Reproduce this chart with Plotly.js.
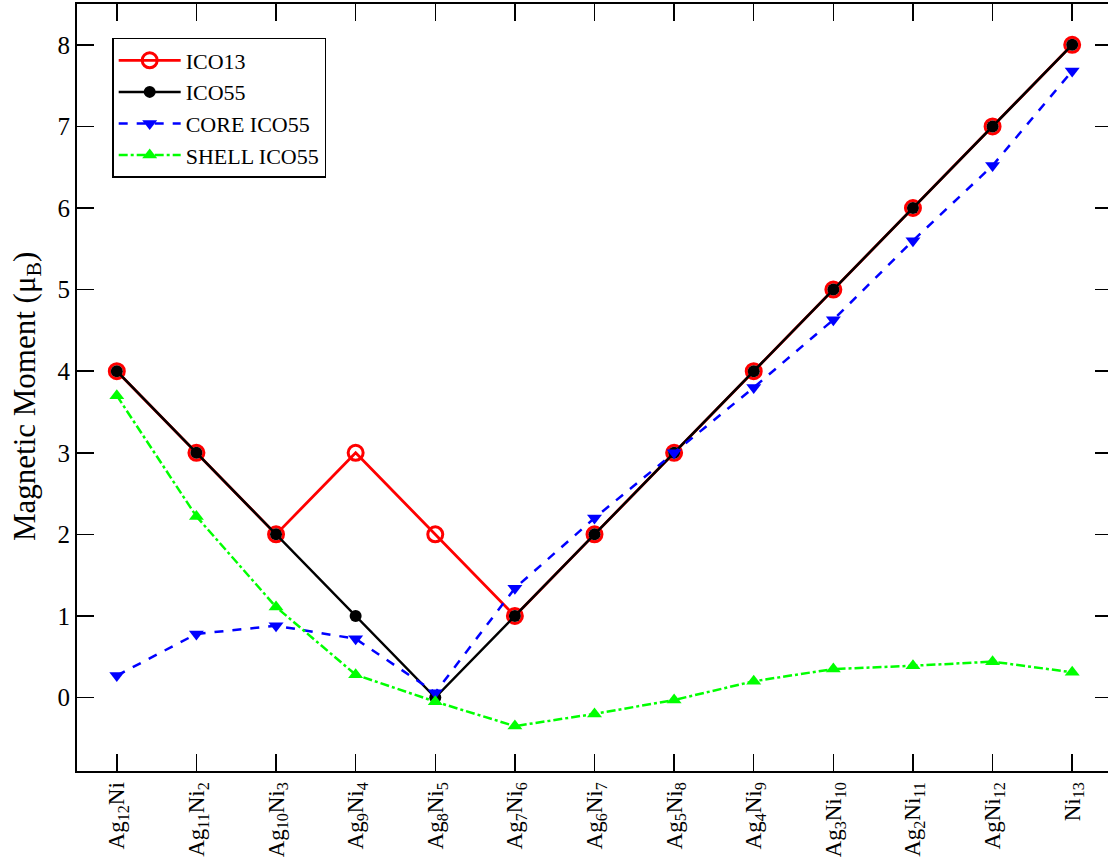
<!DOCTYPE html>
<html>
<head>
<meta charset="utf-8">
<script src="https://cdn.plot.ly/plotly-3.0.1.min.js"></script>
<style>html,body{margin:0;padding:0;overflow:hidden;background:#fff}</style>
</head>
<body>
<div id="chart"></div>
<script>
const categories = ["Ag<sub>12</sub>Ni","Ag<sub>11</sub>Ni<sub>2</sub>","Ag<sub>10</sub>Ni<sub>3</sub>","Ag<sub>9</sub>Ni<sub>4</sub>","Ag<sub>8</sub>Ni<sub>5</sub>","Ag<sub>7</sub>Ni<sub>6</sub>","Ag<sub>6</sub>Ni<sub>7</sub>","Ag<sub>5</sub>Ni<sub>8</sub>","Ag<sub>4</sub>Ni<sub>9</sub>","Ag<sub>3</sub>Ni<sub>10</sub>","Ag<sub>2</sub>Ni<sub>11</sub>","AgNi<sub>12</sub>","Ni<sub>13</sub>"];
const xIndex = [0,1,2,3,4,5,6,7,8,9,10,11,12];
const ico13 = [4,3,2,3,2,1,2,3,4,5,6,7,8];
const ico55 = [4,3,2,1,0,1,2,3,4,5,6,7,8];
const coreIco55 = [0.27,0.78,0.88,0.72,0.06,1.34,2.2,3.0,3.8,4.63,5.6,6.52,7.68];
const shellIco55 = [3.70,2.22,1.11,0.28,-0.05,-0.35,-0.2,-0.03,0.2,0.35,0.39,0.44,0.31];
const yTicks = [0,1,2,3,4,5,6,7,8];
const yTitle = "Magnetic Moment (μ<sub>B</sub>)";

const font = "Liberation Serif";
const traces = [
  {x:xIndex, y:ico13, name:"ICO13", mode:"lines+markers",
   line:{color:"#ff0000", width:2.8},
   marker:{symbol:"circle-open", size:15, color:"#ff0000", line:{width:3, color:"#ff0000"}}},
  {x:xIndex, y:ico55, name:"ICO55", mode:"lines+markers",
   line:{color:"#000000", width:2.5},
   marker:{symbol:"circle", size:12, color:"#000000"}},
  {x:xIndex, y:coreIco55, name:"CORE ICO55", mode:"lines+markers",
   line:{color:"#0000ff", width:2.5, dash:"dash"},
   marker:{symbol:"triangle-down", size:13, color:"#0000ff"}},
  {x:xIndex, y:shellIco55, name:"SHELL ICO55", mode:"lines+markers",
   line:{color:"#00ff00", width:2.5, dash:"dashdot"},
   marker:{symbol:"triangle-up", size:13, color:"#00ff00"}}
];

const layout = {
  width:1112, height:857,
  margin:{l:77, r:0, t:4, b:86},
  paper_bgcolor:"#fff", plot_bgcolor:"#fff",
  font:{family:font, size:24, color:"#000"},
  showlegend:true,
  legend:{x:0.034, y:0.9557, xanchor:"left", yanchor:"top",
          bgcolor:"#fff", bordercolor:"#000", borderwidth:1.5,
          font:{family:font, size:22, color:"#000"}, itemwidth:62, tracegroupgap:0},
  xaxis:{range:[-0.5,12.5], tickmode:"array", tickvals:xIndex, ticktext:categories,
         tickangle:-90, ticks:"inside", ticklen:17, tickwidth:1.5, tickcolor:"#000",
         showline:true, linecolor:"#000", linewidth:2, mirror:"ticks",
         showgrid:false, zeroline:false, tickfont:{family:font, size:23}},
  yaxis:{range:[-0.9,8.5], tickmode:"array", tickvals:yTicks, ticktext:yTicks.map(String),
         ticks:"inside", ticklen:17, tickwidth:1.5, tickcolor:"#000",
         showline:true, linecolor:"#000", linewidth:2, mirror:"ticks",
         showgrid:false, zeroline:false, tickfont:{family:font, size:25}},
  annotations:[{text:yTitle, xref:"paper", yref:"paper", x:-0.0483, y:0.4876,
                xanchor:"center", yanchor:"middle", textangle:-90, showarrow:false,
                font:{family:font, size:31, color:"#000"}}]
};

Plotly.newPlot("chart", traces, layout, {displayModeBar:false, staticPlot:true});
</script>
</body>
</html>
